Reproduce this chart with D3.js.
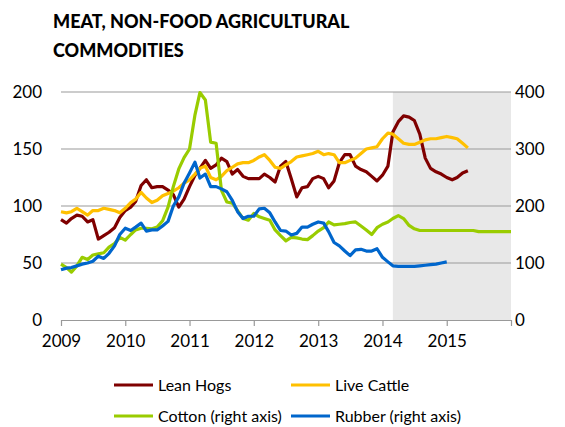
<!DOCTYPE html>
<html>
<head>
<meta charset="utf-8">
<script src="https://d3js.org/d3.v7.min.js"></script>
<style>
  body { margin: 0; background: #fff; }
  text { font-family: Lato, "Open Sans", sans-serif; fill: #000; }
</style>
</head>
<body>
<div id="chart"></div>
<script>
var width = 565;
var height = 427;

// monthly series starting January 2009
var leanHogs = [88, 85, 89, 92, 91, 86, 88, 71, 74, 77, 81, 90,
  96, 99, 104, 118, 123, 116, 117, 117, 114, 110, 99, 106,
  117, 127, 133, 140, 133, 136, 142, 139, 128, 132, 126, 124,
  124, 124, 128, 125, 121, 135, 139, 124, 108, 116, 117, 124,
  126, 124, 116, 122, 138, 145, 145, 135, 132, 130, 126, 122,
  127, 135, 165, 174, 179, 178, 175, 163, 142, 133, 130, 128,
  125, 123, 125, 129, 131];
var liveCattle = [95, 94, 95, 98, 95, 92, 96, 96, 98, 97, 96, 94,
  98, 103, 106, 112, 107, 103, 105, 109, 111, 113, 116, 120,
  123, 128, 133, 135, 125, 123, 126, 131, 134, 137, 138, 138,
  140, 143, 145, 140, 134, 133, 136, 139, 143, 144, 145, 146,
  148, 145, 146, 145, 138, 138, 140, 142, 146, 150, 151, 152,
  159, 164, 163, 159, 155, 154, 154, 156, 158, 159, 159, 160,
  161, 160, 159, 155, 151];
var cotton = [98, 92, 84, 95, 110, 106, 114, 116, 118, 128, 134, 145,
  140, 150, 158, 161, 161, 160, 163, 174, 198, 234, 265, 285,
  300, 360, 399, 386, 312, 310, 228, 207, 205, 192, 178, 175,
  187, 181, 178, 175, 158, 148, 139, 145, 144, 142, 141, 148,
  156, 162, 172, 167, 168, 169, 171, 172, 165, 158, 150, 162,
  168, 172, 178, 183, 178, 166, 160, 157, 157, 157, 157, 157,
  157, 157, 157, 157, 157, 157, 155, 155, 155, 155, 155, 155, 155];
var rubber = [88, 91, 92, 95, 98, 100, 103, 112, 108, 117, 130, 150,
  161, 157, 163, 170, 156, 158, 158, 165, 173, 200, 216, 240,
  258, 277, 249, 256, 234, 234, 230, 225, 210, 190, 178, 182,
  182, 195, 196, 188, 172, 157, 156, 149, 152, 163, 163, 168,
  172, 170, 155, 136, 130, 121, 113, 123, 124, 121, 121, 125,
  110, 102, 95, 94, 94, 94, 94, 95, 96, 97, 98, 100, 102];

var leftTicks = [0, 50, 100, 150, 200];
var rightTicks = [0, 100, 200, 300, 400];
var yearTicks = [2009, 2010, 2011, 2012, 2013, 2014, 2015, 2016];
var forecastStart = new Date(2014, 2, 1);

var series = [
  { name: "Lean Hogs", values: leanHogs, color: "#7f0000", axis: "left" },
  { name: "Live Cattle", values: liveCattle, color: "#ffc000", axis: "left" },
  { name: "Cotton (right axis)", values: cotton, color: "#99cc00", axis: "right" },
  { name: "Rubber (right axis)", values: rubber, color: "#0066cc", axis: "right" }
];

var svg = d3.select("#chart")
  .append("svg")
  .attr("width", width)
  .attr("height", height);

var x = d3.scaleTime()
  .domain([new Date(2009, 0, 1), new Date(2016, 0, 1)])
  .range([61, 511]);

var yLeft = d3.scaleLinear().domain([0, 200]).range([320, 92]);
var yRight = d3.scaleLinear().domain([0, 400]).range([320, 92]);

// title
svg.append("text")
  .attr("x", 53).attr("y", 28)
  .style("font-size", "18px").style("font-weight", "900")
  .text("MEAT, NON-FOOD AGRICULTURAL");
svg.append("text")
  .attr("x", 53).attr("y", 57)
  .style("font-size", "18px").style("font-weight", "900")
  .text("COMMODITIES");

// shaded forecast area
svg.append("rect")
  .attr("x", x(forecastStart))
  .attr("y", yLeft(200))
  .attr("width", x.range()[1] - x(forecastStart))
  .attr("height", yLeft(0) - yLeft(200))
  .style("fill", "#e8e8e8");

// gridlines
svg.selectAll(".grid")
  .data(leftTicks.slice(1))
  .enter()
  .append("line")
  .attr("class", "grid")
  .attr("x1", x.range()[0]).attr("x2", x.range()[1])
  .attr("y1", function(d) { return yLeft(d); })
  .attr("y2", function(d) { return yLeft(d); })
  .style("stroke", "#999").style("stroke-width", 1.2);

// left axis
var leftAxis = svg.append("g")
  .attr("transform", "translate(61,0)")
  .call(d3.axisLeft(yLeft).tickValues(leftTicks).tickSize(0).tickPadding(19));
leftAxis.select(".domain").remove();
leftAxis.selectAll("text").style("font-size", "17px").attr("dy", "0.35em");

// right axis
var rightAxis = svg.append("g")
  .attr("transform", "translate(511,0)")
  .call(d3.axisRight(yRight).tickValues(rightTicks).tickSize(0).tickPadding(4));
rightAxis.select(".domain").remove();
rightAxis.selectAll("text").style("font-size", "17px").attr("dy", "0.35em");

// bottom axis
var bottomAxis = svg.append("g")
  .attr("transform", "translate(0,320)")
  .call(d3.axisBottom(x)
    .tickValues(yearTicks.map(function(d) { return new Date(d, 0, 1); }))
    .tickFormat(function(d) { return d.getFullYear() < 2016 ? d.getFullYear() : ""; })
    .tickSizeInner(6).tickSizeOuter(0).tickPadding(9));
bottomAxis.select(".domain").style("stroke", "#999").style("stroke-width", 1.2);
bottomAxis.selectAll(".tick line").style("stroke", "#999").style("stroke-width", 1.2);
bottomAxis.selectAll("text").style("font-size", "17px");

// lines
series.forEach(function(s) {
  var yScale = s.axis == "left" ? yLeft : yRight;
  var line = d3.line()
    .x(function(d, i) { return x(new Date(2009, i, 1)); })
    .y(function(d) { return yScale(d); });
  svg.append("path")
    .datum(s.values)
    .attr("d", line)
    .style("fill", "none")
    .style("stroke", s.color)
    .style("stroke-width", 3.2)
    .style("stroke-linejoin", "round");
});

// legend
var legendPos = [[114, 385], [291, 385], [114, 416], [291, 416]];
var legend = svg.selectAll(".legend")
  .data(series)
  .enter()
  .append("g")
  .attr("class", "legend")
  .attr("transform", function(d, i) { return "translate(" + legendPos[i][0] + "," + legendPos[i][1] + ")"; });

legend.append("line")
  .attr("x1", 0).attr("x2", 39)
  .style("stroke", function(d) { return d.color; })
  .style("stroke-width", 3.2);

legend.append("text")
  .attr("x", 44).attr("dy", "0.36em")
  .style("font-size", "16px")
  .text(function(d) { return d.name; });
</script>
</body>
</html>
